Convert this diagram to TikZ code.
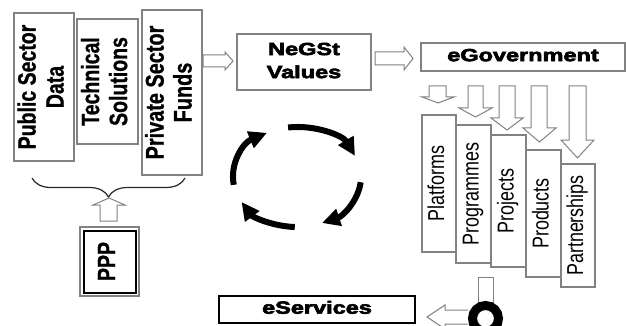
\documentclass[tikz,border=0pt]{standalone}
\usepackage{fontspec}
\setmainfont{Liberation Sans}
\newfontfamily\heavyfont[BoldFeatures={FakeBold=3}]{Liberation Sans}
\newfontfamily\boldfont[BoldFeatures={FakeBold=1}]{Liberation Sans}
\usetikzlibrary{decorations.pathreplacing,arrows.meta}
\definecolor{edgegray}{RGB}{130,130,130}
\newcommand\rotlabel[3]{\rotatebox{90}{\scalebox{0.78}[1]{\fontsize{#1}{#2}\selectfont\begin{tabular}{@{}c@{}}#3\end{tabular}}}}
\newcommand\flatlabel[3]{\scalebox{1}[0.75]{\fontsize{#1}{#2}\selectfont\begin{tabular}{@{}c@{}}#3\end{tabular}}}
\begin{document}
\begin{tikzpicture}[x=1pt,y=-1pt,
  gbox/.style={draw=edgegray,line width=1.2pt,fill=white,inner sep=0pt},
  harrow/.style={draw=edgegray,line width=1pt,fill=white},
  cyc/.style={line width=6pt,-{Triangle[length=18pt,width=17pt]},black},
  boldrot/.style={font=\boldfont\bfseries},
  heavy/.style={font=\heavyfont\bfseries}]
\useasboundingbox (0,0) rectangle (626,326);
\clip (0,0) rectangle (626,326);
\fill[white] (0,0) rectangle (626,326);

% left boxes
\node[gbox,boldrot,minimum width=60pt,minimum height=148pt] (pub) at (44,87) {\rotlabel{25}{28}{Public Sector\\Data}};
\node[gbox,boldrot,minimum width=61pt,minimum height=125pt] (tech) at (107.5,81.5) {\rotlabel{25}{28}{Technical\\Solutions}};
\node[gbox,boldrot,minimum width=60pt,minimum height=165pt] (priv) at (172,92.5) {\rotlabel{25.5}{28}{Private Sector\\Funds}};

% brace
\draw[decorate,decoration={brace,amplitude=19pt},line width=1.2pt,draw=black!85] (185,178) -- (32,178);

% up arrow
\draw[harrow] (100,221) -- (100,205) -- (93,205) -- (109,198) -- (125,205) -- (117,205) -- (117,221) -- cycle;

% PPP
\node[draw=edgegray,line width=1.5pt,minimum width=59pt,minimum height=69pt,inner sep=0pt] (pppo) at (109.5,261.5) {};
\node[draw=black,line width=2pt,minimum width=52pt,minimum height=62pt,inner sep=0pt,boldrot] (ppp) at (109.5,261.5) {\rotlabel{25}{28}{PPP}};

% arrows to NeGSt and eGovernment
\draw[harrow] (203,55) -- (225,55) -- (225,52) -- (233,61) -- (225,70) -- (225,67) -- (203,67) -- cycle;
\node[gbox,heavy,minimum width=134pt,minimum height=56pt] (negst) at (304,62) {\flatlabel{23.5}{30.7}{NeGSt\\Values}};
\draw[harrow] (375,52) -- (404,52) -- (404,47) -- (413,58.5) -- (404,70) -- (404,65) -- (375,65) -- cycle;
\node[gbox,heavy,minimum width=204pt,minimum height=28pt] (egov) at (523,57) {\flatlabel{23.5}{28}{eGovernment}};

% down arrows
\draw[harrow] (429,86) -- (429,97) -- (422,97) -- (438,103) -- (454,97) -- (446,97) -- (446,86) -- cycle;
\draw[harrow] (468,86) -- (468,108) -- (459,108) -- (475.5,117) -- (492,108) -- (483,108) -- (483,86) -- cycle;
\draw[harrow] (499,86) -- (499,118) -- (491,118) -- (507,130) -- (523,118) -- (515,118) -- (515,86) -- cycle;
\draw[harrow] (531,86) -- (531,128) -- (523,128) -- (539.5,142) -- (556,128) -- (547,128) -- (547,86) -- cycle;
\draw[harrow] (569,86) -- (569,140) -- (561,140) -- (577.5,158) -- (594,140) -- (586,140) -- (586,86) -- cycle;

% vertical boxes
\node[gbox,minimum width=34pt,minimum height=137pt] (plat) at (439,183.5) {\rotlabel{23}{26}{Platforms}};
\node[gbox,minimum width=35pt,minimum height=138pt] (prog) at (473.5,194) {\rotlabel{23}{26}{Programmes}};
\node[gbox,minimum width=35pt,minimum height=132pt] (proj) at (508.5,201) {\rotlabel{23}{26}{Projects}};
\node[gbox,minimum width=35pt,minimum height=127pt] (prod) at (543.5,213.5) {\rotlabel{23}{26}{Products}};
\node[gbox,minimum width=34pt,minimum height=123pt] (part) at (578,225.5) {\rotlabel{23}{26}{Partnerships}};

% cycle arrows
\coordinate (cc) at (297,177);
\draw[cyc] ([shift={(171:64 and 50)}]cc) arc[start angle=171,end angle=242,x radius=64,y radius=50];
\draw[cyc] ([shift={(262:64 and 50)}]cc) arc[start angle=262,end angle=335,x radius=64,y radius=50];
\draw[cyc] ([shift={(6:64 and 50)}]cc) arc[start angle=6,end angle=67,x radius=64,y radius=50];
\draw[cyc] ([shift={(92:64 and 50)}]cc) arc[start angle=92,end angle=150,x radius=64,y radius=50];

% bottom connector
\draw[harrow] (478,277) rectangle (493,302);
\draw[harrow] (468,310) -- (445,310) -- (445,305) -- (427,317) -- (445,329) -- (445,324) -- (468,324);
\coordinate (ring) at (485.5,318.5);
\draw[line width=9pt,black] (ring) ellipse [x radius=13,y radius=13];

% eServices
\node[draw=black,line width=2.5pt,fill=white,minimum width=196pt,minimum height=27pt,inner sep=0pt,heavy] (eserv) at (317,309.5) {\flatlabel{23.5}{28}{eServices}};
\end{tikzpicture}
\end{document}
